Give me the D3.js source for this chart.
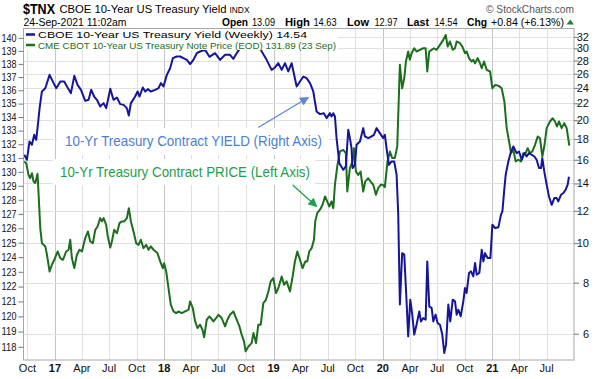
<!DOCTYPE html>
<html><head><meta charset="utf-8">
<script src="https://cdn.jsdelivr.net/npm/d3@7"></script>
<style>
body{margin:0;background:#fff;}
svg{display:block;font-family:"Liberation Sans",Arial,sans-serif;}
</style>
</head><body>
<svg id="chart" width="601" height="379"></svg>
<script>
// ---------- DATA (dates as decimal years) ----------
const yieldDates = [
 2016.720,2016.744,2016.768,2016.790,2016.811,2016.829,2016.841,2016.860,2016.881,2016.912,2016.951,2016.988,
 2017.012,2017.049,2017.085,2017.110,2017.146,2017.177,2017.207,2017.238,2017.277,2017.308,2017.332,2017.359,2017.384,2017.414,2017.445,2017.469,2017.506,2017.536,2017.567,2017.597,2017.628,2017.658,2017.676,2017.695,2017.734,2017.756,2017.774,2017.804,2017.826,2017.850,2017.877,2017.917,2017.948,2017.969,2017.993,
 2018.024,2018.054,2018.079,2018.115,2018.146,2018.176,2018.207,2018.237,2018.267,2018.298,2018.328,2018.374,2018.414,2018.465,2018.511,2018.557,2018.602,2018.633,2018.663,2018.678,2018.720,2018.760,2018.790,2018.830,2018.860,2018.892,2018.937,2018.983,
 2019.014,2019.044,2019.075,2019.105,2019.135,2019.166,2019.212,2019.242,2019.273,2019.303,2019.334,2019.364,2019.379,2019.394,2019.425,2019.461,2019.486,2019.516,2019.531,2019.547,2019.562,2019.577,2019.602,2019.638,2019.662,2019.684,2019.699,2019.714,2019.723,2019.745,2019.760,2019.791,2019.821,2019.836,2019.867,2019.897,2019.919,2019.943,2019.973,
 2020.004,2020.019,2020.034,2020.056,2020.080,2020.104,2020.126,2020.141,2020.156,2020.177,2020.196,2020.214,2020.232,2020.251,2020.269,2020.287,2020.308,2020.333,2020.348,2020.369,2020.391,2020.406,2020.424,2020.446,2020.461,2020.482,2020.500,2020.522,2020.543,2020.561,2020.577,2020.598,2020.616,2020.638,2020.659,2020.674,2020.689,2020.711,2020.735,2020.750,2020.765,2020.787,2020.805,2020.826,2020.842,2020.857,2020.881,2020.903,2020.918,2020.933,2020.957,2020.982,
 2021.000,2021.025,2021.055,2021.079,2021.092,2021.110,2021.122,2021.146,2021.171,2021.192,2021.222,2021.244,2021.268,2021.293,2021.314,2021.335,2021.360,2021.384,2021.405,2021.427,2021.445,2021.457,2021.475,2021.497,2021.518,2021.543,2021.567,2021.588,2021.603,2021.628,2021.649,2021.670,2021.689,2021.701
];
const yieldValues = [
 16.46,16.00,17.74,17.41,18.42,17.91,19.13,21.41,23.52,23.96,25.83,24.65,
 23.96,24.88,24.88,24.19,23.30,25.69,24.42,23.74,22.31,22.44,23.74,22.86,22.44,21.61,22.02,21.41,23.87,22.44,22.74,21.90,21.81,21.41,20.54,22.02,22.86,23.52,22.86,24.05,23.52,23.83,23.52,23.74,23.96,24.65,24.19,
 25.83,26.82,28.38,28.65,28.65,28.38,28.11,27.43,28.11,29.19,29.47,29.74,28.60,29.19,28.11,28.92,28.92,28.27,29.19,29.58,30.6,31.6,32.1,31.7,30.6,29.47,28.11,26.57,
 26.93,27.59,26.57,27.59,26.33,27.59,24.19,24.88,25.59,25.35,24.65,23.52,22.23,21.01,20.70,20.81,20.24,20.81,20.43,20.81,20.43,18.08,15.70,15.12,15.41,18.95,18.08,17.09,15.27,15.55,17.41,17.74,19.13,18.25,18.08,18.25,18.42,19.13,18.60,
 18.08,18.42,17.09,15.55,15.85,15.85,14.70,11.74,7.07,9.45,9.37,7.47,5.91,7.27,6.68,5.97,6.31,6.80,6.43,6.55,6.49,9.02,7.00,6.93,6.43,6.68,6.37,6.31,5.97,5.38,5.64,7.07,6.43,7.27,7.20,6.68,6.87,6.62,7.20,7.76,7.55,8.45,8.53,8.29,8.94,8.37,8.45,9.63,9.02,9.45,9.19,9.19,
 11.09,10.89,10.93,11.74,11.96,13.64,14.70,15.85,16.77,17.25,16.61,16.77,16.00,16.61,16.30,16.61,16.46,16.30,16.00,15.27,15.27,16.15,14.98,13.90,13.01,12.41,12.89,12.89,12.65,13.13,13.26,13.51,13.90,14.54
];
const priceDates = [
 2016.720,2016.738,2016.759,2016.774,2016.790,2016.805,2016.820,2016.841,2016.851,2016.866,2016.881,2016.912,2016.927,2016.951,2016.972,2016.994,
 2017.024,2017.049,2017.073,2017.103,2017.125,2017.140,2017.155,2017.177,2017.201,2017.225,
 2017.247,2017.277,2017.302,2017.323,2017.347,2017.369,2017.390,2017.414,2017.430,2017.445,
 2017.469,2017.481,2017.506,2017.521,2017.542,2017.567,2017.591,2017.612,2017.634,2017.658,
 2017.676,2017.695,2017.719,2017.743,2017.765,2017.786,2017.810,2017.835,2017.856,2017.877,
 2017.902,2017.938,2017.963,2017.987,2017.999,
 2018.018,2018.039,2018.060,2018.085,2018.109,2018.130,2018.161,2018.191,2018.222,2018.237,
 2018.261,2018.283,2018.304,2018.328,2018.350,2018.365,2018.389,2018.414,2018.450,2018.474,
 2018.496,2018.526,2018.557,2018.578,2018.602,2018.633,2018.663,2018.688,2018.709,2018.730,
 2018.745,2018.770,2018.800,2018.816,2018.840,2018.861,2018.883,2018.907,2018.931,2018.953,
 2018.974,2018.998,
 2019.023,2019.044,2019.075,2019.096,2019.120,2019.151,2019.175,2019.196,2019.218,2019.242,
 2019.266,2019.291,2019.309,2019.327,2019.349,2019.370,2019.382,2019.400,2019.425,2019.449,
 2019.471,2019.492,2019.510,2019.531,2019.547,2019.562,2019.583,2019.608,2019.638,2019.662,
 2019.675,2019.699,2019.723,2019.736,2019.754,2019.775,2019.797,2019.821,2019.839,2019.867,
 2019.888,2019.913,2019.937,2019.958,2019.980,2019.998,
 2020.019,2020.043,2020.065,2020.086,2020.110,2020.132,2020.156,2020.177,2020.196,2020.211,
 2020.232,2020.247,2020.263,2020.287,2020.308,2020.339,2020.369,2020.391,2020.406,2020.424,
 2020.446,2020.467,2020.491,2020.522,2020.552,2020.574,2020.592,2020.613,2020.638,2020.659,
 2020.674,2020.705,2020.726,2020.750,2020.765,2020.787,2020.811,2020.826,2020.842,2020.866,
 2020.887,2020.903,2020.924,2020.948,2020.979,
 2021.000,2021.025,2021.055,2021.085,2021.110,2021.131,2021.153,2021.171,2021.192,2021.213,
 2021.238,2021.262,2021.283,2021.305,2021.323,2021.344,2021.366,2021.390,2021.415,2021.436,
 2021.457,2021.475,2021.497,2021.527,2021.552,2021.573,2021.591,2021.610,2021.634,2021.658,
 2021.680,2021.704
];
const priceValues = [
 130.75,130.62,129.78,129.54,129.90,129.30,129.19,129.85,128.36,126.01,124.97,124.74,124.17,123.02,123.48,123.82,
 124.39,123.94,123.82,124.39,124.51,125.20,123.94,123.25,124.17,124.51,
 124.39,125.32,125.78,125.08,124.97,125.89,126.12,126.71,126.48,126.71,
 126.24,125.54,124.67,125.08,125.89,125.66,126.36,126.48,126.48,126.71,
 127.41,126.48,125.78,124.97,124.85,125.20,124.62,124.85,124.51,124.74,
 124.51,124.28,123.71,123.25,123.59,
 123.02,121.89,120.78,120.33,120.22,120.33,120.22,120.33,120.44,121.00,
 120.56,119.67,119.23,119.45,119.12,118.62,119.78,120.00,119.67,119.89,
 120.11,119.89,119.34,119.78,120.11,120.33,119.78,119.34,118.79,118.35,
 117.70,118.02,118.24,118.90,118.24,119.45,119.45,120.89,121.11,121.67,
 122.35,122.57,
 121.56,121.89,122.68,122.12,122.35,121.67,122.68,123.71,124.39,123.82,
 123.25,123.71,123.71,124.39,124.62,125.20,126.48,127.06,127.30,127.65,
 128.24,127.88,127.53,127.88,127.41,129.07,130.38,131.47,131.59,131.35,
 128.59,130.26,130.75,131.71,130.02,129.78,130.02,128.59,129.30,129.54,
 129.30,129.07,128.36,128.83,129.07,129.07,
 128.90,130.75,131.47,130.99,130.99,131.83,137.93,136.15,136.92,138.18,
 138.95,138.31,138.82,139.20,138.95,139.08,139.20,139.20,137.42,138.95,
 139.08,139.20,139.08,139.46,139.85,140.23,139.33,139.72,139.08,139.20,
 139.72,139.59,139.33,138.82,138.95,138.44,138.18,138.31,138.05,138.44,
 138.05,137.67,138.18,137.55,137.42,
 136.15,136.40,136.35,136.15,135.15,133.18,132.20,131.35,131.59,130.75,
 130.87,130.75,131.35,131.35,131.71,131.35,131.47,131.95,132.56,132.44,
 131.11,131.83,133.18,133.67,133.91,133.67,133.30,133.67,133.18,133.55,
 133.18,131.89
];
const leftTicks = [118,119,120,121,122,123,124,125,126,127,128,129,130,131,132,133,134,135,136,137,138,139,140];
const rightTicks = [6,8,10,12,14,16,18,20,22,24,26,28,30,32];
const monthNames = ["Jan","Feb","Mar","Apr","May","Jun","Jul","Aug","Sep","Oct","Nov","Dec"];

// ---------- SETUP ----------
const svg = d3.select("#chart");
const L = 23.5, R = 574, T = 28.5, B = 360;
function decToDate(t){
  const y = Math.floor(t), s = Date.UTC(y,0,1), e = Date.UTC(y+1,0,1);
  return new Date(s + (t - y) * (e - s));
}
const x = d3.scaleUtc().domain([decToDate(2016.713), decToDate(2021.747)]).range([L, R]);
const yL = d3.scaleLog().domain([117.14, 140.73]).range([B, T]);
const yR = d3.scaleLog().domain([5.172, 33.55]).range([B, T]);

svg.append("rect").attr("width",601).attr("height",379).attr("fill","#fff");

// gridlines
const qTicks = x.ticks(d3.utcMonth.every(3));
const grid = svg.append("g");
grid.selectAll("line.v").data(qTicks).join("line")
  .attr("x1", d => Math.round(x(d))+0.5).attr("x2", d => Math.round(x(d))+0.5)
  .attr("y1", T).attr("y2", B)
  .attr("stroke", d => d.getUTCMonth()===0 ? "#c4c4c4" : "#e0e0e0").attr("stroke-width",1);
grid.selectAll("line.h").data(rightTicks).join("line")
  .attr("x1", L).attr("x2", R)
  .attr("y1", d => Math.round(yR(d))+0.5).attr("y2", d => Math.round(yR(d))+0.5)
  .attr("stroke","#e0e0e0").attr("stroke-width",1);

// clip
svg.append("clipPath").attr("id","clip").append("rect")
  .attr("x",L).attr("y",T).attr("width",R-L).attr("height",B-T);

const priceLine = d3.line().x((d,i)=>x(decToDate(priceDates[i]))).y((d,i)=>yL(priceValues[i]));
const yieldLine = d3.line().x((d,i)=>x(decToDate(yieldDates[i]))).y((d,i)=>yR(yieldValues[i]));
const plot = svg.append("g").attr("clip-path","url(#clip)");
plot.append("path").datum(priceValues).attr("d", priceLine)
  .attr("fill","none").attr("stroke","#1b6e1b").attr("stroke-width",2).attr("stroke-linejoin","round");
plot.append("path").datum(yieldValues).attr("d", yieldLine)
  .attr("fill","none").attr("stroke","#15159a").attr("stroke-width",2).attr("stroke-linejoin","round");

// annotation boxes (white background)
svg.append("rect").attr("x",57).attr("y",128).attr("width",272).attr("height",27).attr("fill","#fff");
svg.append("rect").attr("x",53).attr("y",159).attr("width",262).attr("height",26).attr("fill","#fff");

// annotation texts
svg.append("text").attr("x",65).attr("y",146).attr("font-size",14.5).attr("fill","#4c7ed2")
  .attr("textLength",257).attr("lengthAdjust","spacingAndGlyphs")
  .text("10-Yr Treasury Contract YIELD (Right Axis)");
svg.append("text").attr("x",60).attr("y",177).attr("font-size",14.5).attr("fill","#1e9e48")
  .attr("textLength",250).attr("lengthAdjust","spacingAndGlyphs")
  .text("10-Yr Treasury Contract PRICE (Left Axis)");

// arrows anchored to data
const defs = svg.append("defs");
function marker(id,color){
  defs.append("marker").attr("id",id).attr("viewBox","0 0 10 10").attr("refX",9).attr("refY",5)
    .attr("markerWidth",7).attr("markerHeight",7).attr("orient","auto-start-reverse")
    .append("path").attr("d","M0,0 L10,5 L0,10 z").attr("fill",color);
}
marker("mb","#5a88d8"); marker("mg","#1fa050");
const tipY = [x(decToDate(2019.318)), yR(22.74)];
const tipP = [x(decToDate(2019.395)), yL(127.53)];
svg.append("line").attr("x1",tipY[0]-50).attr("y1",tipY[1]+30).attr("x2",tipY[0]).attr("y2",tipY[1])
  .attr("stroke","#5a88d8").attr("stroke-width",1.3).attr("marker-end","url(#mb)");
svg.append("line").attr("x1",tipP[0]-24).attr("y1",tipP[1]-21.5).attr("x2",tipP[0]).attr("y2",tipP[1])
  .attr("stroke","#1fa050").attr("stroke-width",1.3).attr("marker-end","url(#mg)");

// legend
svg.append("rect").attr("x",24).attr("y",29).attr("width",314).attr("height",21).attr("fill","#fff");
svg.append("line").attr("x1",26).attr("x2",35).attr("y1",34.5).attr("y2",34.5).attr("stroke","#15159a").attr("stroke-width",2.5);
svg.append("line").attr("x1",26).attr("x2",35).attr("y1",45).attr("y2",45).attr("stroke","#1b6e1b").attr("stroke-width",2.5);
svg.append("text").attr("x",38).attr("y",38).attr("font-size",9.8).attr("fill","#000")
  .attr("textLength",269).attr("lengthAdjust","spacingAndGlyphs")
  .text("CBOE 10-Year US Treasury Yield (Weekly) 14.54");
svg.append("text").attr("x",38).attr("y",49).attr("font-size",9.8).attr("fill","#1b6e1b")
  .attr("textLength",298).attr("lengthAdjust","spacingAndGlyphs")
  .text("CME CBOT 10-Year US Treasury Note Price (EOD) 131.89 (23 Sep)");

// frame
svg.append("rect").attr("x",L).attr("y",T).attr("width",R-L).attr("height",B-T)
  .attr("fill","none").attr("stroke","#a8a8a8").attr("stroke-width",1);

// left axis
const gl = svg.append("g").attr("transform",`translate(${L},0)`)
  .call(d3.axisLeft(yL).tickValues(leftTicks).tickFormat(d3.format("d")).tickSize(5).tickPadding(2));
gl.select(".domain").remove();
gl.selectAll("line").attr("stroke","#777");
gl.selectAll("text").attr("font-size",10.5).attr("font-family","Liberation Sans, Arial, sans-serif").attr("fill","#111")
  .attr("textLength",15).attr("lengthAdjust","spacingAndGlyphs");

// right axis
const gr = svg.append("g").attr("transform",`translate(${R},0)`)
  .call(d3.axisRight(yR).tickValues(rightTicks).tickFormat(d3.format("d")).tickSize(5).tickPadding(2));
gr.select(".domain").remove();
gr.selectAll("line").attr("stroke","#777");
gr.selectAll("text").attr("font-size",11).attr("font-family","Liberation Sans, Arial, sans-serif").attr("fill","#111")
  .attr("text-anchor","end").attr("x",15);

// bottom labels
svg.append("g").selectAll("text").data(qTicks).join("text")
  .attr("x", d => x(d)).attr("y",372).attr("text-anchor","middle").attr("font-size",11)
  .attr("font-weight", d => d.getUTCMonth()===0 ? "bold" : "normal").attr("fill","#111")
  .text(d => d.getUTCMonth()===0 ? String(d.getUTCFullYear()).slice(2) : monthNames[d.getUTCMonth()]);

// header
svg.append("text").attr("x",23).attr("y",14).attr("font-size",14).attr("font-weight","bold")
  .attr("textLength",32).attr("lengthAdjust","spacingAndGlyphs").text("$TNX");
svg.append("text").attr("x",59.5).attr("y",12.5).attr("font-size",11.5)
  .attr("textLength",167).attr("lengthAdjust","spacingAndGlyphs").text("CBOE 10-Year US Treasury Yield");
svg.append("text").attr("x",229.5).attr("y",12.5).attr("font-size",9.5)
  .attr("textLength",20).attr("lengthAdjust","spacingAndGlyphs").text("INDX");
svg.append("text").attr("x",486).attr("y",12.5).attr("font-size",11).attr("fill","#555")
  .attr("textLength",88).attr("lengthAdjust","spacingAndGlyphs").text("© StockCharts.com");
svg.append("text").attr("x",23.5).attr("y",26).attr("font-size",11)
  .attr("textLength",103).attr("lengthAdjust","spacingAndGlyphs").text("24-Sep-2021 11:02am");
const stats = [
  {t:"Open",x:222,w:26,b:true},{t:"13.09",x:252,w:23},{t:"High",x:285,w:25,b:true},{t:"14.63",x:313.5,w:23},
  {t:"Low",x:347,w:22,b:true},{t:"12.97",x:374.5,w:23},{t:"Last",x:407,w:22,b:true},{t:"14.54",x:434.5,w:23},
  {t:"Chg",x:467,w:20,b:true},{t:"+0.84 (+6.13%)",x:491,w:73}
];
svg.append("g").selectAll("text").data(stats).join("text")
  .attr("x",d=>d.x).attr("y",26).attr("font-size",d=>d.b?11.5:11)
  .attr("font-weight",d=>d.b?"bold":"normal")
  .attr("textLength",d=>d.w).attr("lengthAdjust","spacingAndGlyphs").text(d=>d.t);
svg.append("path").attr("d","M566.5,24.5 L574,24.5 L570.25,19.5 Z").attr("fill","#1b8a2b");
</script>
</body></html>
